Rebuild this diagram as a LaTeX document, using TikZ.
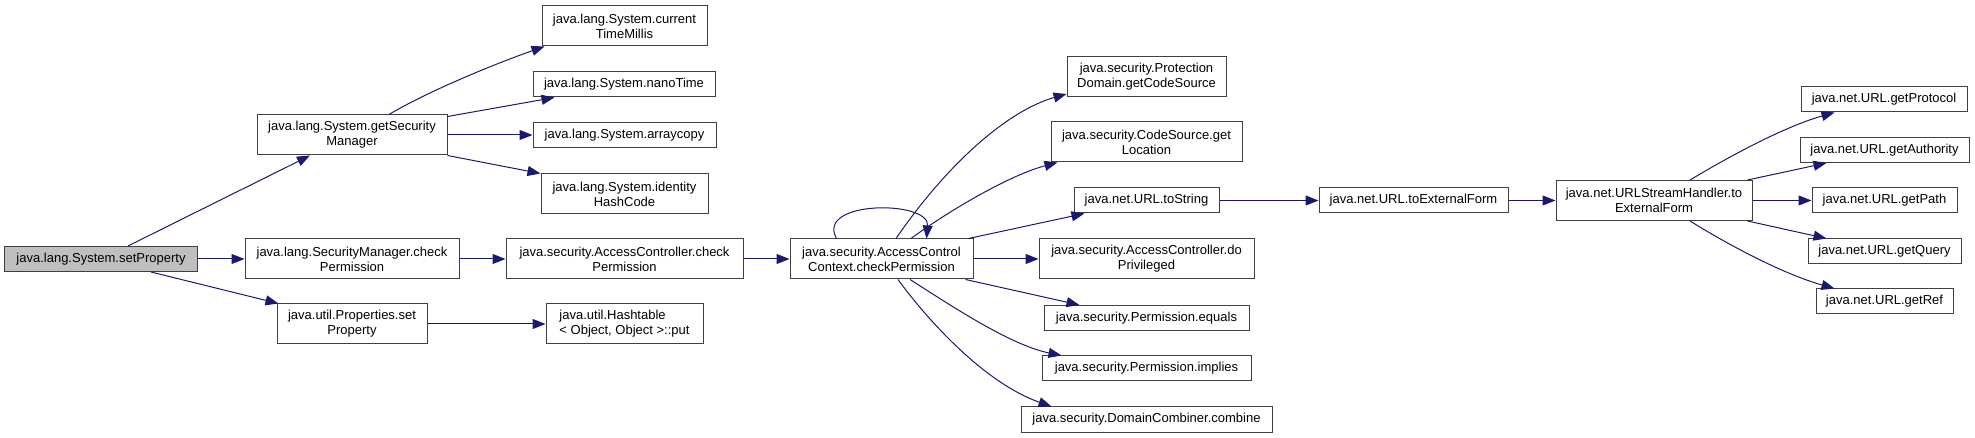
\documentclass[tikz,border=0pt]{standalone}
\usepackage{fontspec}
\setmainfont{Liberation Sans}
\usetikzlibrary{arrows.meta,calc}
\definecolor{edgec}{HTML}{191970}
\definecolor{boxc}{HTML}{404040}
\definecolor{grayfill}{HTML}{BFBFBF}
\begin{document}
\begin{tikzpicture}[x=1bp,y=-1bp,
  box/.style={draw=boxc, line width=1bp, fill=white, inner sep=0pt, align=center,
    font=\fontsize{13bp}{15bp}\selectfont},
  call/.style={draw=edgec, line width=1bp, -{Triangle[length=13bp,width=10bp]}}]
\useasboundingbox (0,0) rectangle (1975,438);
% nodes
\node[box, fill=grayfill, minimum width=192bp, minimum height=25bp] (sp) at (101,259) {java.lang.System.setProperty};
\node[box, minimum width=190bp, minimum height=40bp] (gsm) at (352,135) {java.lang.System.getSecurity\\Manager};
\node[box, minimum width=214bp, minimum height=40bp] (smc) at (352,259) {java.lang.SecurityManager.check\\Permission};
\node[box, minimum width=150bp, minimum height=40bp] (pset) at (352,324) {java.util.Properties.set\\Property};
\node[box, minimum width=165bp, minimum height=40bp] (cur) at (624.5,26) {java.lang.System.current\\TimeMillis};
\node[box, minimum width=182bp, minimum height=25bp] (nano) at (624,84.5) {java.lang.System.nanoTime};
\node[box, minimum width=183bp, minimum height=25bp] (arr) at (624.5,135) {java.lang.System.arraycopy};
\node[box, minimum width=167bp, minimum height=40bp] (ident) at (624.5,194) {java.lang.System.identity\\HashCode};
\node[box, minimum width=237bp, minimum height=40bp] (acp) at (624.5,259) {java.security.AccessController.check\\Permission};
\node[box, align=left, minimum width=157bp, minimum height=40bp] (hput) at (624.5,324) {java.util.Hashtable\\< Object, Object >::put};
\node[box, minimum width=183bp, minimum height=40bp] (acc) at (881.5,259) {java.security.AccessControl\\Context.checkPermission};
\node[box, minimum width=159bp, minimum height=40bp] (pdg) at (1146.5,77) {java.security.Protection\\Domain.getCodeSource};
\node[box, minimum width=191bp, minimum height=40bp] (csg) at (1146.5,142) {java.security.CodeSource.get\\Location};
\node[box, minimum width=145bp, minimum height=25bp] (uts) at (1146.5,200.5) {java.net.URL.toString};
\node[box, minimum width=215bp, minimum height=40bp] (dop) at (1146.5,259) {java.security.AccessController.do\\Privileged};
\node[box, minimum width=205bp, minimum height=25bp] (peq) at (1146.5,318) {java.security.Permission.equals};
\node[box, minimum width=209bp, minimum height=25bp] (pimp) at (1146.5,368.5) {java.security.Permission.implies};
\node[box, minimum width=251bp, minimum height=25bp] (dcc) at (1146.5,419.5) {java.security.DomainCombiner.combine};
\node[box, minimum width=189bp, minimum height=25bp] (tef) at (1413.5,200.5) {java.net.URL.toExternalForm};
\node[box, minimum width=196bp, minimum height=40bp] (ush) at (1654,200.5) {java.net.URLStreamHandler.to\\ExternalForm};
\node[box, minimum width=166bp, minimum height=25bp] (gpr) at (1884,99.5) {java.net.URL.getProtocol};
\node[box, minimum width=169bp, minimum height=25bp] (gau) at (1884.5,150) {java.net.URL.getAuthority};
\node[box, minimum width=145bp, minimum height=25bp] (gpa) at (1884.5,200.5) {java.net.URL.getPath};
\node[box, minimum width=153bp, minimum height=25bp] (gqu) at (1884.5,251.5) {java.net.URL.getQuery};
\node[box, minimum width=137bp, minimum height=25bp] (gre) at (1884.5,301.5) {java.net.URL.getRef};
% edges
\draw[call] ($(sp.north)+(27,0)$) -- ($(gsm.south)+(-42,0)$);
\draw[call] (sp.east) -- (smc.west);
\draw[call] ($(sp.south)+(50,0)$) -- ($(pset.north west)+(2,0)$);
\draw[call] ($(gsm.north)+(37,0)$) .. controls (430,90) and (500,62) .. ($(cur.south west)+(3,0)$);
\draw[call] ($(gsm.north east)+(0,2)$) -- ($(nano.south west)+(22,0)$);
\draw[call] (gsm.east) -- (arr.west);
\draw[call] (gsm.south east) -- (ident.north west);
\draw[call] (smc.east) -- (acp.west);
\draw[call] (pset.east) -- (hput.west);
\draw[call] (acp.east) -- (acc.west);
\draw[call] ($(acc.north)+(-45,0)$) .. controls (815,200) and (930,200) .. ($(acc.north)+(45,0)$);
\draw[call] ($(acc.north)+(14.5,0)$) .. controls (950,160) and (1010,110) .. ($(pdg.west)+(0,17)$);
\draw[call] ($(acc.north)+(29.5,0)$) .. controls (950,210) and (1010,175) .. ($(csg.south west)+(7,0)$);
\draw[call] ($(acc.north east)+(-5,0)$) -- ($(uts.south west)+(11,0)$);
\draw[call] (acc.east) -- (dop.west);
\draw[call] ($(acc.south east)+(-8,0)$) -- ($(peq.north west)+(36,0)$);
\draw[call] ($(acc.south)+(28.5,0)$) .. controls (950,305) and (1010,345) .. ($(pimp.north west)+(20,0)$);
\draw[call] ($(acc.south)+(16.5,0)$) .. controls (935,330) and (990,385) .. ($(dcc.north west)+(31,0)$);
\draw[call] (uts.east) -- (tef.west);
\draw[call] (tef.east) -- (ush.west);
\draw[call] ($(ush.north)+(36,0)$) .. controls (1740,150) and (1790,125) .. ($(gpr.south west)+(34,0)$);
\draw[call] ($(ush.north east)+(-5,0)$) -- ($(gau.south west)+(27,0)$);
\draw[call] (ush.east) -- (gpa.west);
\draw[call] ($(ush.south east)+(-5,0)$) -- ($(gqu.north west)+(19,0)$);
\draw[call] ($(ush.south)+(36,0)$) .. controls (1740,252) and (1790,276) .. ($(gre.north west)+(19,0)$);
\end{tikzpicture}
\end{document}
